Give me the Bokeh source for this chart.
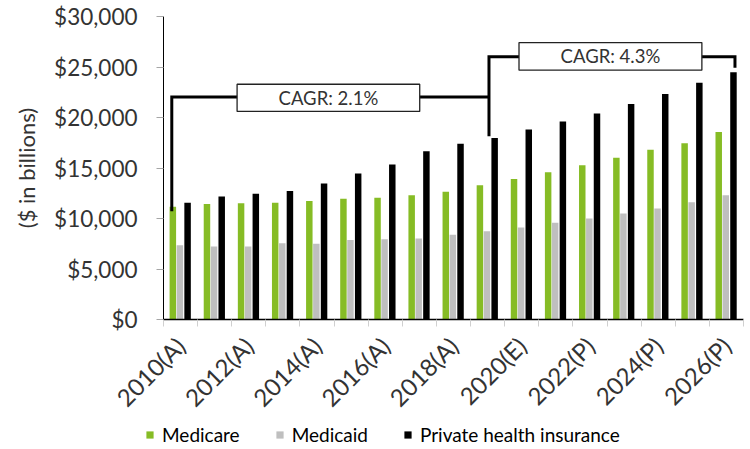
from math import pi
from bokeh.plotting import figure
from bokeh.models import (ColumnDataSource, Range1d, FixedTicker, NumeralTickFormatter,
                          Legend, LegendItem)
from bokeh.transform import dodge
from bokeh.embed import file_html
from bokeh.resources import INLINE
from bokeh.core.properties import value

# ---------------- data ----------------
years = ["2010(A)", "2011(A)", "2012(A)", "2013(A)", "2014(A)", "2015(A)", "2016(A)",
         "2017(A)", "2018(A)", "2019(A)", "2020(E)", "2021(P)", "2022(P)", "2023(P)",
         "2024(P)", "2025(P)", "2026(P)"]
medicare = [11170, 11430, 11500, 11570, 11730, 11960, 12060, 12290, 12660, 13290,
            13920, 14590, 15280, 16010, 16810, 17450, 18570]
medicaid = [7340, 7240, 7240, 7540, 7510, 7880, 7940, 8010, 8400, 8730,
            9100, 9570, 10000, 10500, 11000, 11600, 12290]
private_ins = [11570, 12190, 12460, 12720, 13460, 14460, 15350, 16650, 17410, 17980,
               18800, 19600, 20400, 21340, 22330, 23430, 24490]
y_ticks = [0, 5000, 10000, 15000, 20000, 25000, 30000]
cagr_labels = ["CAGR: 2.1%", "CAGR: 4.3%"]
series_names = ["Medicare", "Medicaid", "Private health insurance"]

GREEN = "#86BC25"
GRAY = "#BFBFBF"
BLACK = "#000000"
FONT = "Lato"

n = len(years)
xc = [i + 0.5 for i in range(n)]
src = ColumnDataSource(dict(x=xc, medicare=medicare, medicaid=medicaid, private=private_ins))

p = figure(width=750, height=424, x_range=Range1d(0, n), y_range=Range1d(0, 30000),
           output_backend="svg", toolbar_location=None,
           min_border_left=163, min_border_right=7, min_border_top=16, min_border_bottom=105)
p.outline_line_color = None
p.xgrid.visible = False
p.ygrid.visible = False

off = 0.226
bw = 0.19
r1 = p.vbar(x=dodge("x", -off), top="medicare", width=bw, source=src,
            fill_color=GREEN, line_color=None)
r2 = p.vbar(x=dodge("x", -0.02), top="medicaid", width=bw, source=src,
            fill_color=GRAY, line_color=None)
r3 = p.vbar(x=dodge("x", off - 0.02), top="private", width=bw, source=src,
            fill_color=BLACK, line_color=None)

# ---------------- CAGR brackets ----------------
xl, xm, xr = 0.243, 9.54, 16.75
y1, y2 = 22030, 26020
p.line([xl, xl, xm], [10730, y1, y1], line_width=3, color="black", line_join="miter")
p.line([xm, xm, xr, xr], [18150, y2, y2, 24930], line_width=3, color="black",
       line_join="miter")
box_left = [2.157, 10.42]
box_right = [7.51, 15.78]
box_bottom = [20600, 24690]
box_top = [23290, 27420]
p.quad(left=box_left, right=box_right, bottom=box_bottom, top=box_top,
       fill_color="white", line_color="#222222", line_width=1.3)
p.text(x=[(a + b) / 2 for a, b in zip(box_left, box_right)],
       y=[(a + b) / 2 for a, b in zip(box_bottom, box_top)],
       text=cagr_labels, text_align="center", text_baseline="middle",
       text_font=value(FONT), text_font_size="18.5px", text_color="#333333")

# ---------------- axes ----------------
ya = p.yaxis[0]
ya.ticker = FixedTicker(ticks=y_ticks)
ya.formatter = NumeralTickFormatter(format="$0,0")
ya.axis_line_color = "black"
ya.axis_line_width = 1
ya.major_tick_out = 7
ya.major_tick_in = 0
ya.major_tick_line_color = "#a6a6a6"
ya.minor_tick_line_color = None
ya.major_label_standoff = 19
ya.major_label_text_font = FONT
ya.major_label_text_font_size = "22.5px"
ya.major_label_text_color = "#333333"
ya.axis_label = "($ in billions)"
ya.axis_label_text_font = FONT
ya.axis_label_text_font_size = "22px"
ya.axis_label_text_font_style = "normal"
ya.axis_label_text_color = "#333333"
ya.axis_label_standoff = 11

xa = p.xaxis[0]
major = [i + 0.5 for i in range(0, n, 2)]
xa.ticker = FixedTicker(ticks=major, minor_ticks=list(range(n + 1)))
xa.major_label_overrides = {i + 0.5: years[i] for i in range(0, n, 2)}
xa.major_tick_line_color = None
xa.minor_tick_out = 7
xa.minor_tick_in = 0
xa.minor_tick_line_color = "#d0d0d0"
xa.axis_line_color = "black"
xa.axis_line_width = 1.5
xa.major_label_orientation = pi / 4
xa.major_label_standoff = 15
xa.major_label_text_font = FONT
xa.major_label_text_font_size = "24px"
xa.major_label_text_color = "#333333"

# ---------------- legend strip (separate root, full-width frame) ----------------
lf = figure(width=750, height=25, x_range=Range1d(0, 750), y_range=Range1d(0, 25),
            output_backend="svg", toolbar_location=None,
            min_border=0, min_border_left=0, min_border_right=0,
            min_border_top=0, min_border_bottom=0)
lf.axis.visible = False
lf.grid.visible = False
lf.outline_line_color = None
dummies = [lf.vbar(x=[0], top=[0], width=0, fill_color=c, line_color=None)
           for c in (GREEN, GRAY, BLACK)]
legend = Legend(items=[LegendItem(label=nm, renderers=[r]) for nm, r in zip(series_names, dummies)],
                location=(145, 3.5), orientation="horizontal",
                glyph_width=9, glyph_height=9, label_standoff=8, spacing=35,
                padding=0, margin=0, border_line_color=None, background_fill_alpha=0,
                label_text_font=FONT, label_text_font_size="19px", label_height=20,
                label_text_color="#000000")
lf.add_layout(legend)

open("out.html", "w").write(file_html([p, lf], INLINE))
